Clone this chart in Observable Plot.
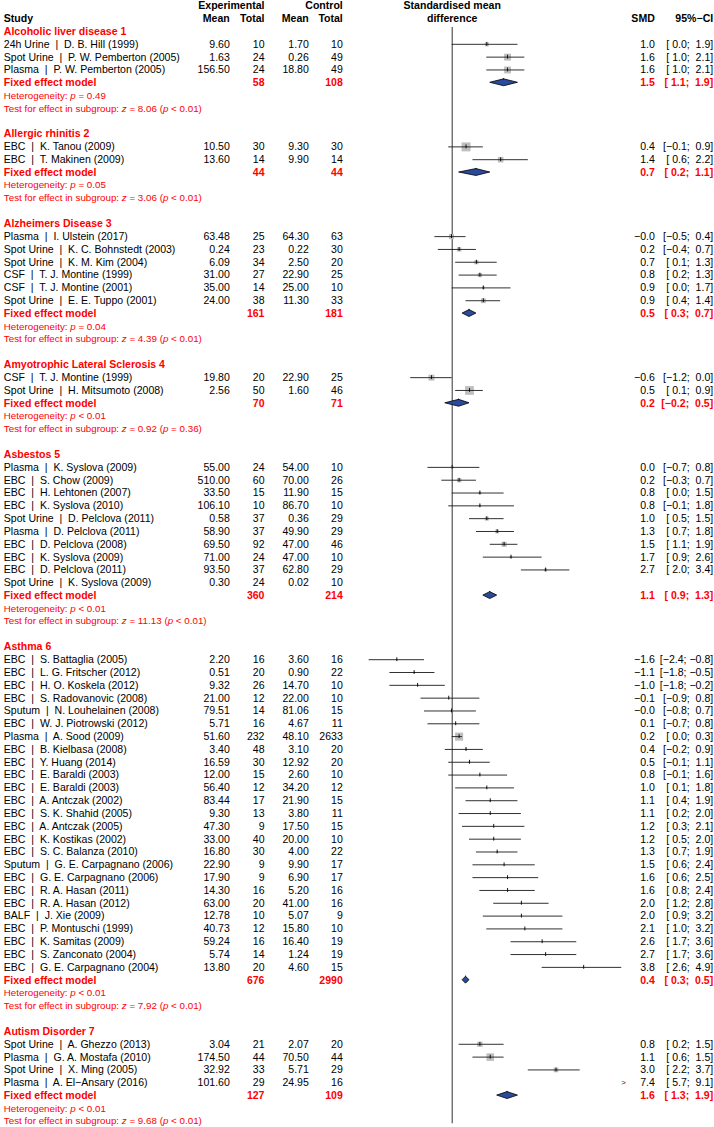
<!DOCTYPE html>
<html><head><meta charset="utf-8">
<script src="https://cdn.jsdelivr.net/npm/d3@7"></script>
<script src="https://cdn.jsdelivr.net/npm/@observablehq/plot@0.6"></script>
<style>
body{margin:0;background:#fff;}
#chart svg{display:block;}
#chart text{white-space:pre;}
</style></head><body><div id="chart"></div>
<script>
// ---------------- DATA ----------------
const groups = ["Alcoholic liver disease 1", "Allergic rhinitis 2", "Alzheimers Disease 3",
  "Amyotrophic Lateral Sclerosis 4", "Asbestos 5", "Asthma 6", "Autism Disorder 7"];

const studyGroup = [0,0,0, 1,1, 2,2,2,2,2,2, 3,3, 4,4,4,4,4,4,4,4,4,4,
  5,5,5,5,5,5,5,5,5,5,5,5,5,5,5,5,5,5,5,5,5,5,5,5,5, 6,6,6,6];

const studyLabel = [
  "24h Urine  |  D. B. Hill (1999)", "Spot Urine  |  P. W. Pemberton (2005)", "Plasma  |  P. W. Pemberton (2005)",
  "EBC  |  K. Tanou (2009)", "EBC  |  T. Makinen (2009)",
  "Plasma  |  I. Ulstein (2017)", "Spot Urine  |  K. C. Bohnstedt (2003)", "Spot Urine  |  K. M. Kim (2004)",
  "CSF  |  T. J. Montine (1999)", "CSF  |  T. J. Montine (2001)", "Spot Urine  |  E. E. Tuppo (2001)",
  "CSF  |  T. J. Montine (1999)", "Spot Urine  |  H. Mitsumoto (2008)",
  "Plasma  |  K. Syslova (2009)", "EBC  |  S. Chow (2009)", "EBC  |  H. Lehtonen (2007)", "EBC  |  K. Syslova (2010)",
  "Spot Urine  |  D. Pelclova (2011)", "Plasma  |  D. Pelclova (2011)", "EBC  |  D. Pelclova (2008)",
  "EBC  |  K. Syslova (2009)", "EBC  |  D. Pelclova (2011)", "Spot Urine  |  K. Syslova (2009)",
  "EBC  |  S. Battaglia (2005)", "EBC  |  L. G. Fritscher (2012)", "EBC  |  H. O. Koskela (2012)",
  "EBC  |  S. Radovanovic (2008)", "Sputum  |  N. Louhelainen (2008)", "EBC  |  W. J. Piotrowski (2012)",
  "Plasma  |  A. Sood (2009)", "EBC  |  B. Kielbasa (2008)", "EBC  |  Y. Huang (2014)", "EBC  |  E. Baraldi (2003)",
  "EBC  |  E. Baraldi (2003)", "EBC  |  A. Antczak (2002)", "EBC  |  S. K. Shahid (2005)", "EBC  |  A. Antczak (2005)",
  "EBC  |  K. Kostikas (2002)", "EBC  |  S. C. Balanza (2010)", "Sputum  |  G. E. Carpagnano (2006)",
  "EBC  |  G. E. Carpagnano (2006)", "EBC  |  R. A. Hasan (2011)", "EBC  |  R. A. Hasan (2012)", "BALF  |  J. Xie (2009)",
  "EBC  |  P. Montuschi (1999)", "EBC  |  K. Samitas (2009)", "EBC  |  S. Zanconato (2004)", "EBC  |  G. E. Carpagnano (2004)",
  "Spot Urine  |  A. Ghezzo (2013)", "Plasma  |  G. A. Mostafa (2010)", "Spot Urine  |  X. Ming (2005)",
  "Plasma  |  A. El\u2212Ansary (2016)"
];

const expMean = [9.60, 1.63, 156.50, 10.50, 13.60, 63.48, 0.24, 6.09, 31.00, 35.00, 24.00, 19.80, 2.56,
  55.00, 510.00, 33.50, 106.10, 0.58, 58.90, 69.50, 71.00, 93.50, 0.30,
  2.20, 0.51, 9.32, 21.00, 79.51, 5.71, 51.60, 3.40, 16.59, 12.00, 56.40, 83.44, 9.30, 47.30, 33.00, 16.80,
  22.90, 17.90, 14.30, 63.00, 12.78, 40.73, 59.24, 5.74, 13.80,
  3.04, 174.50, 32.92, 101.60];
const expTotal = [10, 24, 24, 30, 14, 25, 23, 34, 27, 14, 38, 20, 50,
  24, 60, 15, 10, 37, 37, 92, 24, 37, 24,
  16, 20, 26, 12, 14, 16, 232, 48, 30, 15, 12, 17, 13, 9, 40, 30, 9, 9, 16, 20, 10, 12, 16, 14, 20,
  21, 44, 33, 29];
const ctrlMean = [1.70, 0.26, 18.80, 9.30, 9.90, 64.30, 0.22, 2.50, 22.90, 25.00, 11.30, 22.90, 1.60,
  54.00, 70.00, 11.90, 86.70, 0.36, 49.90, 47.00, 47.00, 62.80, 0.02,
  3.60, 0.90, 14.70, 22.00, 81.06, 4.67, 48.10, 3.10, 12.92, 2.60, 34.20, 21.90, 3.80, 17.50, 20.00, 4.00,
  9.90, 6.90, 5.20, 41.00, 5.07, 15.80, 16.40, 1.24, 4.60,
  2.07, 70.50, 5.71, 24.95];
const ctrlTotal = [10, 49, 49, 30, 14, 63, 30, 20, 25, 10, 33, 25, 46,
  10, 26, 15, 10, 29, 29, 46, 10, 29, 10,
  16, 22, 10, 10, 15, 11, 2633, 20, 20, 10, 12, 15, 11, 15, 10, 22, 17, 17, 16, 16, 9, 10, 19, 19, 15,
  20, 44, 29, 16];
const smd = [1.0, 1.6, 1.6, 0.4, 1.4, -0.02, 0.2, 0.7, 0.8, 0.9, 0.9, -0.6, 0.5,
  0.0, 0.2, 0.8, 0.8, 1.0, 1.3, 1.5, 1.7, 2.7, null,
  -1.6, -1.1, -1.0, -0.1, -0.02, 0.1, 0.2, 0.4, 0.5, 0.8, 1.0, 1.1, 1.1, 1.2, 1.2, 1.3, 1.5, 1.6, 1.6, 2.0, 2.0, 2.1, 2.6, 2.7, 3.8,
  0.8, 1.1, 3.0, 7.4];
const ciLower = [0.0, 1.0, 1.0, -0.1, 0.6, -0.5, -0.4, 0.1, 0.2, 0.0, 0.4, -1.2, 0.1,
  -0.7, -0.3, 0.0, -0.1, 0.5, 0.7, 1.1, 0.9, 2.0, null,
  -2.4, -1.8, -1.8, -0.9, -0.8, -0.7, 0.0, -0.2, -0.1, -0.1, 0.1, 0.4, 0.2, 0.3, 0.5, 0.7, 0.6, 0.6, 0.8, 1.2, 0.9, 1.0, 1.7, 1.7, 2.6,
  0.2, 0.6, 2.2, 5.7];
const ciUpper = [1.9, 2.1, 2.1, 0.9, 2.2, 0.4, 0.7, 1.3, 1.3, 1.7, 1.4, 0.0, 0.9,
  0.8, 0.7, 1.5, 1.8, 1.5, 1.8, 1.9, 2.6, 3.4, null,
  -0.8, -0.5, -0.2, 0.8, 0.7, 0.8, 0.3, 0.9, 1.1, 1.6, 1.8, 1.9, 2.0, 2.1, 2.0, 1.9, 2.4, 2.5, 2.4, 2.8, 3.2, 3.2, 3.6, 3.6, 4.9,
  1.5, 1.5, 3.7, 9.1];
// weight (% within subgroup), estimated from the square sizes
const weightPct = [15.0, 42.5, 42.5, 72.3, 27.7, 23.5, 17.0, 15.6, 15.8, 7.0, 21.1, 31.4, 68.6,
  6.8, 17.5, 6.7, 4.5, 14.0, 13.1, 23.8, 5.3, 8.3, 0,
  1.7, 2.5, 1.8, 1.5, 2.0, 1.8, 58.4, 3.8, 3.2, 1.5, 1.5, 1.9, 1.4, 1.3, 2.0, 2.9, 1.3, 1.3, 1.7, 1.6, 0.9, 1.0, 1.3, 1.2, 0.9,
  25.4, 51.2, 19.6, 3.8];

const fixedExpTotal = [58, 44, 161, 70, 360, 676, 127];
const fixedCtrlTotal = [108, 44, 181, 71, 214, 2990, 109];
const fixedSmd = [1.5, 0.7, 0.5, 0.2, 1.1, 0.4, 1.6];
const fixedLower = [1.1, 0.2, 0.3, -0.2, 0.9, 0.3, 1.3];
const fixedUpper = [1.9, 1.1, 0.7, 0.5, 1.3, 0.5, 1.9];
const hetP = ["p = 0.49", "p = 0.05", "p = 0.04", "p < 0.01", "p < 0.01", "p < 0.01", "p < 0.01"];
const testZ = ["z = 8.06 (p < 0.01)", "z = 3.06 (p < 0.01)", "z = 4.39 (p < 0.01)", "z = 0.92 (p = 0.36)",
  "z = 11.13 (p < 0.01)", "z = 7.92 (p < 0.01)", "z = 9.68 (p < 0.01)"];

// ---------------- LAYOUT ----------------
const X_MIN = -2.5, X_MAX = 5;
const FONT = "Liberation Sans, Arial, Helvetica, sans-serif";
const FS = 10.55, FS_SMALL = 9.8;
const RED = "#ff0000";

const fmt1 = v => v.toFixed(1).replace("-", "\u2212");
const pad4 = s => (s.length < 4 ? " " + s : s);
const ciText = (lo, hi) => "[" + pad4(fmt1(lo)) + "; " + pad4(fmt1(hi)) + "]";

const studies = studyLabel.map((label, i) => ({
  label, g: studyGroup[i], em: expMean[i], en: expTotal[i], cm: ctrlMean[i], cn: ctrlTotal[i],
  smd: smd[i], lo: ciLower[i], hi: ciUpper[i], w: weightPct[i]
}));

const groupRows = [], studyRows = [], fixedRows = [], hetRows = [], testRows = [];
let r = 1;
groups.forEach((name, g) => {
  groupRows.push({row: r++, label: name});
  studies.filter(s => s.g === g).forEach(s => { s.row = r++; studyRows.push(s); });
  fixedRows.push({row: r++, g, en: fixedExpTotal[g], cn: fixedCtrlTotal[g], smd: fixedSmd[g], lo: fixedLower[g], hi: fixedUpper[g]});
  hetRows.push({row: r++, label: "Heterogeneity: " + hetP[g]});
  testRows.push({row: r++, label: "Test for effect in subgroup: " + testZ[g]});
  r++;
});
const lastRow = r - 2;

const withEst = studyRows.filter(s => s.smd != null);
const inRange = withEst.filter(s => s.lo <= X_MAX && s.hi >= X_MIN);
const beyond = withEst.filter(s => s.lo > X_MAX);

const H = 0.27;
const diamonds = fixedRows.flatMap(d => [
  {g: d.g, y: d.row - H, x1: d.smd, x2: d.smd},
  {g: d.g, y: d.row, x1: d.lo, x2: d.hi},
  {g: d.g, y: d.row + H, x1: d.smd, x2: d.smd}
]);

const txt = (data, text, dx, anchor, o = {}) => Plot.text(data, {
  y: "row", text, frameAnchor: "left", dx, textAnchor: anchor,
  fontSize: FS, fill: "black", ...o
});
const head = (t, row, dx, anchor) => txt([{row, t}], "t", dx, anchor, {fontWeight: "bold"});
const B = {fontWeight: "bold", fill: RED};

const C_LABEL = 3.3, C_EM = 229.3, C_EN = 264, C_CM = 308.3, C_CN = 342.3, C_SMD = 654.3, C_CI = 712.7, C_MID = 451.7;

const chart = Plot.plot({
  width: 714, height: 1127,
  marginTop: 0, marginBottom: 0, marginLeft: 0, marginRight: 0,
  style: {fontFamily: FONT, fontSize: FS + "px", background: "white", overflow: "visible"},
  x: {type: "linear", domain: [X_MIN, X_MAX], range: [365.2, 624.7], axis: null},
  y: {type: "linear", domain: [-1.418, 86.49], range: [0, 1127], axis: null},
  r: {type: "sqrt", domain: [0, 100], range: [0, 5.95]},
  marks: [
    Plot.ruleX([0], {y1: 0.69, y2: lastRow + 0.2, stroke: "#333", strokeWidth: 1}),
    Plot.dot(inRange, {x: "smd", y: "row", r: "w", symbol: "square", fill: "#bebebe", stroke: "none"}),
    Plot.ruleY(inRange, {y: "row", x1: d => Math.max(d.lo, X_MIN), x2: d => Math.min(d.hi, X_MAX), stroke: "#1a1a1a", strokeWidth: 0.9}),
    Plot.ruleX(inRange, {x: "smd", y1: d => d.row - 0.15, y2: d => d.row + 0.15, stroke: "#000", strokeWidth: 0.9}),
    Plot.text(beyond, {x: () => X_MAX, y: "row", text: () => ">", dx: -1.5, fontSize: 8, fill: "#222"}),
    Plot.areaX(diamonds, {y: "y", x1: "x1", x2: "x2", z: "g", fill: "#2a4a9c", stroke: "#000", strokeWidth: 0.8, curve: "linear"}),

    // headers
    head("Experimental", -1, C_EN, "end"),
    head("Control", -1, C_CN, "end"),
    head("Standardised mean", -1, C_MID, "middle"),
    head("Study", 0, C_LABEL, "start"),
    head("Mean", 0, C_EM, "end"),
    head("Total", 0, C_EN, "end"),
    head("Mean", 0, C_CM, "end"),
    head("Total", 0, C_CN, "end"),
    head("difference", 0, C_MID, "middle"),
    head("SMD", 0, C_SMD, "end"),
    head("95%\u2212CI", 0, C_CI, "end"),

    // subgroup headers
    txt(groupRows, "label", C_LABEL, "start", B),

    // studies
    txt(studyRows, "label", C_LABEL, "start"),
    txt(studyRows, d => d.em.toFixed(2), C_EM, "end"),
    txt(studyRows, d => String(d.en), C_EN, "end"),
    txt(studyRows, d => d.cm.toFixed(2), C_CM, "end"),
    txt(studyRows, d => String(d.cn), C_CN, "end"),
    txt(withEst, d => fmt1(d.smd), C_SMD, "end"),
    txt(withEst, d => ciText(d.lo, d.hi), C_CI, "end"),

    // fixed effect
    txt(fixedRows, () => "Fixed effect model", C_LABEL, "start", B),
    txt(fixedRows, d => String(d.en), C_EN, "end", B),
    txt(fixedRows, d => String(d.cn), C_CN, "end", B),
    txt(fixedRows, d => fmt1(d.smd), C_SMD, "end", B),
    txt(fixedRows, d => ciText(d.lo, d.hi), C_CI, "end", B),

    // heterogeneity & test
    txt(hetRows, "label", C_LABEL, "start", {fill: RED, fontSize: FS_SMALL}),
    txt(testRows, "label", C_LABEL, "start", {fill: RED, fontSize: FS_SMALL})
  ]
});

// italic p / z in the statistics lines
chart.querySelectorAll("text").forEach(t => {
  const s = t.textContent;
  if (!/^(Heterogeneity|Test for effect)/.test(s)) return;
  const parts = s.split(/\b([pz])(?= [=<])/);
  t.textContent = "";
  parts.forEach((p, k) => {
    const ts = document.createElementNS("http://www.w3.org/2000/svg", "tspan");
    if (k % 2 === 1) ts.setAttribute("font-style", "italic");
    ts.textContent = p;
    t.appendChild(ts);
  });
});

document.getElementById("chart").appendChild(chart);
</script></body></html>
